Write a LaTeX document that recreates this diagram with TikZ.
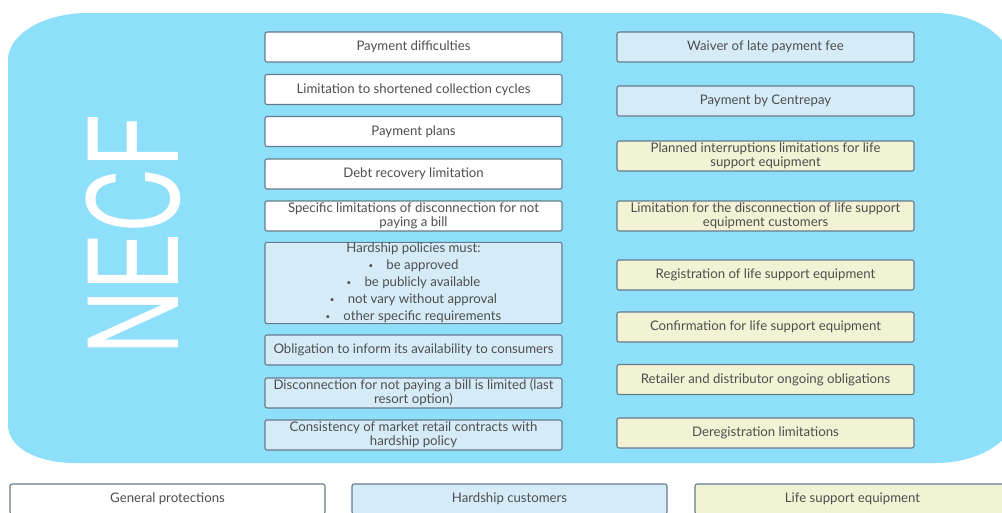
\documentclass[tikz,border=0pt]{standalone}
\usepackage{fontspec}
\setmainfont{Lato}
\newfontfamily\titlefont{TeX Gyre Heros}
\definecolor{skyback}{HTML}{8EDFFA}
\definecolor{paleblue}{HTML}{D5ECF8}
\definecolor{paleyellow}{HTML}{F2F2D4}
\definecolor{edgegray}{HTML}{677A8B}
\definecolor{inkgray}{HTML}{4E4E4E}
\newcommand{\dotitem}{{\fontsize{6}{6}\selectfont\raisebox{0.6pt}{\textbullet}}\quad}
\tikzset{
  item/.style={draw=edgegray, line width=0.8pt, rounded corners=1.5pt,
    minimum width=222.75pt, minimum height=22.5pt,
    align=center, inner sep=0.5pt, text=inkgray,
    font=\fontsize{9.9}{10.5}\selectfont},
  general/.style={item, fill=white},
  hardship/.style={item, fill=paleblue},
  lifesupport/.style={item, fill=paleyellow},
  legend/.style={draw=edgegray, line width=0.8pt, rounded corners=1.5pt,
    minimum width=236.25pt, minimum height=22.5pt, text=inkgray,
    font=\fontsize{9.9}{10.5}\selectfont}
}
\begin{document}
\begin{tikzpicture}[x=0.75pt, y=-0.75pt]
\useasboundingbox (0,0) rectangle (1002,512);
\begin{scope}
\clip (0,0) rectangle (1002,512);
% rounded backdrop of the NECF panel
\fill[skyback] (88,13) -- (935,13)
  .. controls (979,13) and (1015,40) .. (1015,73)
  -- (1015,413)
  .. controls (1015,441) and (979,463) .. (935,463)
  -- (75,463)
  .. controls (38,463) and (8,448) .. (8,425)
  -- (8,60)
  .. controls (8,34) and (44,13) .. (88,13);

\node[text=white, rotate=90] (necf) at (133,235)
  {\titlefont\fontsize{93}{93}\selectfont\scalebox{0.71}[1]{NECF}};

% left column
\node[general]  (l1) at (413.5,47)   {Payment difficulties};
\node[general]  (l2) at (413.5,89.5) {Limitation to shortened collection cycles};
\node[general]  (l3) at (413.5,131.5){Payment plans};
\node[general]  (l4) at (413.5,174)  {Debt recovery limitation};
\node[general]  (l5) at (413.5,216)  {Specific limitations of disconnection for not\\ paying a bill};
\node[hardship, minimum height=60pt, font=\fontsize{9.9}{12.75}\selectfont] (l6) at (413.5,283)
  {Hardship policies must:\\
   \dotitem be approved\\
   \dotitem be publicly available\\
   \dotitem not vary without approval\\
   \dotitem other specific requirements};
\node[hardship] (l7) at (413.5,350)  {Obligation to inform its availability to consumers};
\node[hardship] (l8) at (413.5,393)  {Disconnection for not paying a bill is limited (last\\ resort option)};
\node[hardship] (l9) at (413.5,435)  {Consistency of market retail contracts with\\ hardship policy};

% right column
\node[hardship]    (r1) at (765.5,47)    {Waiver of late payment fee};
\node[hardship]    (r2) at (765.5,101)   {Payment by Centrepay};
\node[lifesupport] (r3) at (765.5,156)   {Planned interruptions limitations for life\\ support equipment};
\node[lifesupport] (r4) at (765.5,216)   {Limitation for the disconnection of life support\\ equipment customers};
\node[lifesupport] (r5) at (765.5,275)   {Registration of life support equipment};
\node[lifesupport] (r6) at (765.5,327)   {Confirmation for life support equipment};
\node[lifesupport] (r7) at (765.5,379.5) {Retailer and distributor ongoing obligations};
\node[lifesupport] (r8) at (765.5,433)   {Deregistration limitations};

% key
\node[legend, fill=white]      (k1) at (167.5,499) {General protections};
\node[legend, fill=paleblue]   (k2) at (509.5,499) {Hardship customers};
\node[legend, fill=paleyellow] (k3) at (852.5,499) {Life support equipment};
\end{scope}
\end{tikzpicture}
\end{document}
